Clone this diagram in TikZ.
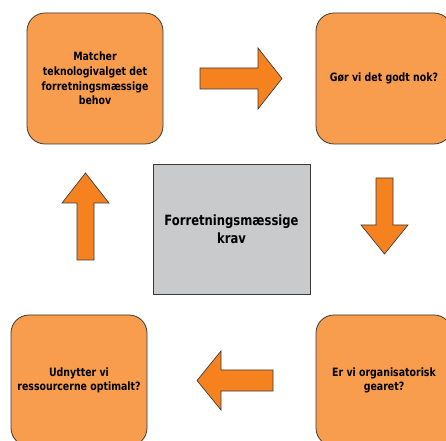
\documentclass[tikz,border=0pt]{standalone}
\usepackage{fontspec}
\setmainfont{DejaVu Sans}[FakeStretch=0.82]
\usetikzlibrary{calc}

\definecolor{boxorange}{HTML}{F79D4D}
\definecolor{arroworange}{HTML}{F5821F}
\definecolor{boxgray}{HTML}{C9CACC}
\definecolor{edgegray}{HTML}{3A3A3A}

\tikzset{
  stepbox/.style={draw=edgegray, fill=boxorange, rounded corners=13.5pt, align=center,
    minimum width=102pt, minimum height=98.25pt, inner sep=0pt, line width=0.6pt,
    font=\fontsize{8.6pt}{10.9pt}\selectfont\bfseries},
  corebox/.style={draw=edgegray, fill=boxgray, align=center,
    minimum width=117.75pt, minimum height=97.5pt, inner sep=0pt, line width=0.6pt,
    font=\fontsize{10.6pt}{13.5pt}\selectfont\bfseries},
  blockarrow/.style={draw=edgegray, fill=arroworange, line width=0.5pt}
}

\begin{document}
\begin{tikzpicture}[x=0.75pt, y=-0.75pt]
  \useasboundingbox (0, 0) rectangle (446, 441);
  \begin{scope}
  \clip (0, 0) rectangle (446, 441);
  \node[stepbox] (match) at (95, 78.5) {Matcher\\teknologivalget det\\forretningsmæssige\\behov};
  \node[stepbox] (godt) at (384, 78.5) {Gør vi det godt nok?};
  \node[stepbox] (gearet) at (384, 380.5) {Er vi organisatorisk\\gearet?};
  \node[stepbox] (udnyt) at (79, 380.5) {Udnytter vi\\ressourcerne optimalt?};
  \end{scope}
  \node[corebox] (krav) at (231.5, 229) {Forretningsmæssige\\krav};

  % block arrows round the cycle
  \draw[blockarrow] (200, 68) -- (258, 68) -- (258, 48) -- (282, 78.5) -- (258, 109) -- (258, 89) -- (200, 89) -- cycle;
  \draw[blockarrow] (376, 178) -- (393, 178) -- (393, 225) -- (408, 225) -- (384.5, 254) -- (361, 225) -- (376, 225) -- cycle;
  \draw[blockarrow] (273, 370) -- (221, 370) -- (221, 351) -- (197, 380.5) -- (221, 410) -- (221, 391) -- (273, 391) -- cycle;
  \draw[blockarrow] (77, 260) -- (77, 203) -- (62, 203) -- (85.5, 173) -- (109, 203) -- (94, 203) -- (94, 260) -- cycle;
\end{tikzpicture}
\end{document}
